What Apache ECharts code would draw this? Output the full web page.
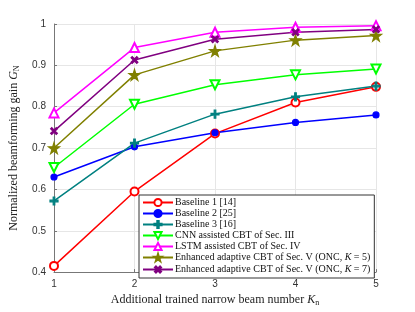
<!DOCTYPE html>
<html><head><meta charset="utf-8">
<script src="https://cdn.jsdelivr.net/npm/echarts@6/dist/echarts.min.js"></script>
<style>html,body{margin:0;padding:0;background:#fff}#c{width:415px;height:312px}</style>
</head><body><div id="c"></div>
<script>
const categories = [1, 2, 3, 4, 5];
const baseline1 = [0.415, 0.595, 0.735, 0.810, 0.848];
const baseline2 = [0.630, 0.703, 0.737, 0.762, 0.780];
const baseline3 = [0.572, 0.712, 0.782, 0.824, 0.850];
const cnn = [0.653, 0.806, 0.853, 0.877, 0.891];
const lstm = [0.785, 0.943, 0.980, 0.992, 0.996];
const enh5 = [0.700, 0.877, 0.935, 0.961, 0.972];
const enh7 = [0.741, 0.913, 0.963, 0.980, 0.987];
const yTicks = [0.4, 0.5, 0.6, 0.7, 0.8, 0.9, 1];

const names = ['Baseline 1 [14]','Baseline 2 [25]','Baseline 3 [16]','CNN assisted CBT of Sec. III','LSTM assisted CBT of Sec. IV','Enhanced adaptive CBT of Sec. V (ONC, K = 5)','Enhanced adaptive CBT of Sec. V (ONC, K = 7)'];
const plus = 'path://M4,0H6V4H10V6H6V10H4V6H0V4H4Z';
const serif = '"Liberation Serif","DejaVu Serif",serif';

function mk(name, data, color, symbol, size, extra) {
  return Object.assign({
    name: name, type: 'line', data: data.map((v,i)=>[categories[i], v]),
    lineStyle: {color: color, width: 1.5}, itemStyle: {color: color, borderColor: color, borderWidth: 1.2},
    symbol: symbol, symbolSize: size, showAllSymbol: true
  }, extra || {});
}
const series = [
  mk(names[0], baseline1, '#ff0000', 'emptyCircle', 8),
  mk(names[1], baseline2, '#0000ff', 'circle', 6),
  mk(names[2], baseline3, '#008080', plus, 8),
  mk(names[3], cnn, '#00ff00', 'emptyTriangle', 9, {symbolRotate: 180}),
  mk(names[4], lstm, '#ff00ff', 'emptyTriangle', 9),
  mk(names[5], enh5, '#808000', 'path://M50,0L61,35H98L68,57L79,91L50,70L21,91L32,57L2,35H39Z', 11),
  mk(names[6], enh7, '#800080', plus, 8, {symbolRotate: 45})
];
const nameRich = {t: {fontFamily: serif, fontSize: 12, color: '#222'}, i: {fontFamily: serif, fontSize: 12, fontStyle: 'italic', color: '#222'}, s: {fontFamily: serif, fontSize: 8, color: '#222', padding: [6,0,0,0]}};
const chart = echarts.init(document.getElementById('c'));
chart.setOption({
  animation: false,
  grid: {left: 54, right: 39, top: 24, bottom: 33},
  xAxis: {
    type: 'value', min: 1, max: 5, interval: 1,
    name: '{t|Additional trained narrow beam number }{i|K}{s|n}', nameLocation: 'middle', nameGap: 18,
    nameTextStyle: {rich: nameRich},
    axisLine: {lineStyle: {color: '#777', width: 1}},
    axisTick: {inside: true, length: 3, lineStyle: {color: '#777'}},
    axisLabel: {fontSize: 10, color: '#333', fontFamily: 'Liberation Sans, Arial', margin: 7},
    splitLine: {show: true, lineStyle: {color: '#e6e6e6'}}
  },
  yAxis: {
    type: 'value', min: 0.4, max: 1, interval: 0.1,
    name: '{t|Normalized beamforming gain }{i|G}{s|N}', nameLocation: 'middle', nameGap: 23,
    nameTextStyle: {rich: nameRich},
    axisLine: {show: true, lineStyle: {color: '#777', width: 1}},
    axisTick: {show: true, inside: true, length: 3, lineStyle: {color: '#777'}},
    axisLabel: {fontSize: 10, color: '#333', fontFamily: 'Liberation Sans, Arial', margin: 8, formatter: v => yTicks.includes(+v.toFixed(1)) ? (+v.toFixed(1)).toString() : ''},
    splitLine: {show: true, lineStyle: {color: '#e6e6e6'}}
  },
  legend: {
    orient: 'vertical', left: 139, top: 195, data: names,
    backgroundColor: '#fff', borderColor: '#333', borderWidth: 1, borderRadius: 0,
    padding: [2, 4, 2, 3], itemGap: 0, itemWidth: 30, itemHeight: 9,
    textStyle: {fontFamily: serif, fontSize: 10, lineHeight: 11, color: '#111', padding: [0,0,0,-3],
      rich: {t: {fontFamily: serif, fontSize: 10, lineHeight: 11, color: '#111'}, i: {fontFamily: serif, fontSize: 10, lineHeight: 11, fontStyle: 'italic', color: '#111'}}},
    formatter: function(n) {
      const m = n.match(/^(.*)K( = \d\))$/);
      if (m) return '{t|' + m[1] + '}{i|K}{t|' + m[2] + '}';
      return n;
    }
  },
  series: series
});
</script></body></html>
